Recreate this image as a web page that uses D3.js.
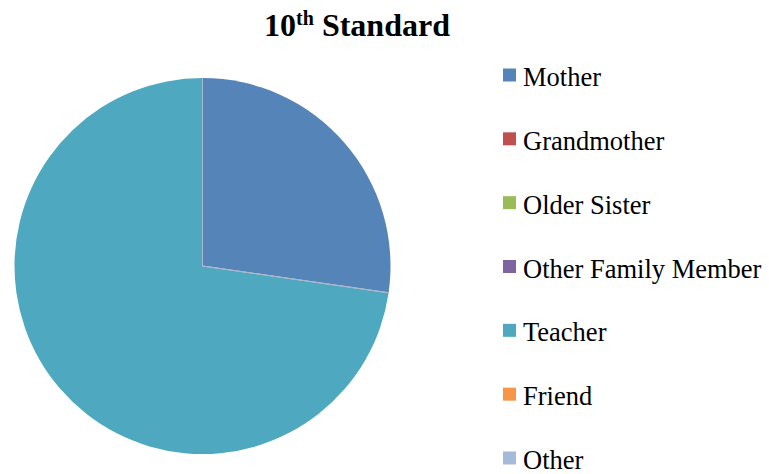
<!DOCTYPE html>
<html>
<head>
<meta charset="utf-8">
<script src="https://cdn.jsdelivr.net/npm/d3@7"></script>
<style>
  body { margin: 0; background: #fff; }
  text { font-family: "Liberation Serif", "Times New Roman", serif; }
</style>
</head>
<body>
<script>
// data
var categories = ["Mother", "Grandmother", "Older Sister", "Other Family Member", "Teacher", "Friend", "Other"];
var values = [3, 0, 0, 0, 8, 0, 0];
var colors = ["#5484b8", "#c0504d", "#9bbb59", "#8064a2", "#4ea8bf", "#f79646", "#a5b9d9"];

var w = 769, h = 474;
var cx = 202.5, cy = 266, r = 188;

var svg = d3.select("body").
append("svg").
attr("width", w).
attr("height", h);

// title
var title = svg.append("text").
attr("x", 357).
attr("y", 36).
attr("text-anchor", "middle").
style("font-size", "32px").
style("font-weight", "bold");
title.append("tspan").text("10");
title.append("tspan").
attr("dy", -11).
style("font-size", "20px").
text("th");
title.append("tspan").
attr("dy", 11).
text(" Standard");

// pie
var pie = d3.pie().sort(null).value(function (d) {return d;});
var arc = d3.arc().innerRadius(0).outerRadius(r);

var color = d3.scaleOrdinal().domain(categories).range(colors);
var slices = pie(values);

var g = svg.append("g").
attr("transform", "translate(" + cx + "," + cy + ")");

g.selectAll("path").
data(slices).
enter().append("path").
attr("d", arc).
attr("fill", function (d, i) {return color(categories[i]);});

// thin slice edges (radial only)
g.selectAll("line").
data(slices).
enter().append("line").
attr("x1", 0).
attr("y1", 0).
attr("x2", function (d) {return r * Math.sin(d.startAngle);}).
attr("y2", function (d) {return -r * Math.cos(d.startAngle);}).
attr("stroke", "#a9b9c9").
attr("stroke-width", 0.8);

// legend
var y = d3.scalePoint().
domain(categories).
range([75, 458]);

var legend = svg.append("g").
selectAll("g").
data(categories).
enter().append("g").
attr("transform", function (d) {return "translate(503," + y(d) + ")";});

legend.append("rect").
attr("x", 0).
attr("y", -6.5).
attr("width", 13).
attr("height", 13).
attr("fill", function (d) {return color(d);});

legend.append("text").
attr("x", 20).
attr("y", 11).
style("font-size", "26.5px").
attr("fill", "#000").
text(function (d) {return d;});
</script>
</body>
</html>
